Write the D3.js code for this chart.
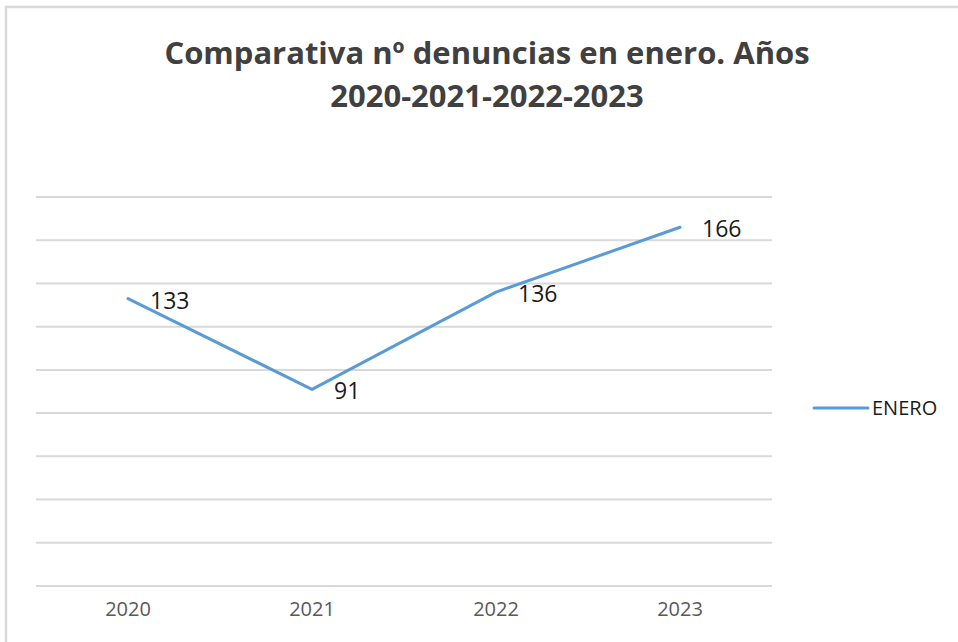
<!DOCTYPE html>
<html>
<head>
<meta charset="utf-8">
<script src="https://cdn.jsdelivr.net/npm/d3@7"></script>
<style>
  body { margin: 0; background: #fff; }
  svg { display: block; }
</style>
</head>
<body>
<svg id="chart" width="958" height="642"></svg>
<script>
// chart data
const years = ['2020', '2021', '2022', '2023'];
const enero = [133, 91, 136, 166];
const yTicks = [0, 20, 40, 60, 80, 100, 120, 140, 160, 180];
const seriesName = 'ENERO';
const titleLines = ['Comparativa nº denuncias en enero. Años', '2020-2021-2022-2023'];

const svg = d3.select('#chart');
const font = "'Open Sans', 'Liberation Sans', sans-serif";

// outer frame (only top and left edges are visible in the picture)
svg.append('rect')
    .attr('x', 6).attr('y', 7)
    .attr('width', 1000).attr('height', 700)
    .attr('fill', '#fff')
    .attr('stroke', '#d9d9d9')
    .attr('stroke-width', 2.5);

const plot = { left: 36, right: 772, top: 197, bottom: 586 };

const x = d3.scaleBand()
    .domain(years)
    .range([plot.left, plot.right]);

const y = d3.scaleLinear()
    .domain([0, 180])
    .range([plot.bottom, plot.top]);

// gridlines
svg.append('g')
    .selectAll('line')
    .data(yTicks)
    .join('line')
    .attr('x1', plot.left)
    .attr('x2', plot.right)
    .attr('y1', d => y(d))
    .attr('y2', d => y(d))
    .attr('stroke', '#d9d9d9')
    .attr('stroke-width', 2);

// x axis labels
const xAxis = svg.append('g')
    .attr('transform', `translate(0,${plot.bottom})`)
    .call(d3.axisBottom(x).tickSize(0).tickPadding(16));
xAxis.select('.domain').remove();
xAxis.selectAll('text')
    .attr('font-family', font)
    .attr('font-size', 20)
    .attr('fill', '#595959');

// title
svg.append('g')
    .selectAll('text')
    .data(titleLines)
    .join('text')
    .attr('x', 487)
    .attr('y', (d, i) => 64 + i * 43)
    .attr('text-anchor', 'middle')
    .attr('font-family', font)
    .attr('font-weight', 'bold')
    .attr('font-size', 31)
    .attr('fill', '#404040')
    .text(d => d);

const cx = (d, i) => x(years[i]) + x.bandwidth() / 2;

// the line
const line = d3.line()
    .x((d, i) => cx(d, i))
    .y(d => y(d));

svg.append('path')
    .datum(enero)
    .attr('d', line)
    .attr('fill', 'none')
    .attr('stroke', '#5b9bd5')
    .attr('stroke-width', 3)
    .attr('stroke-linejoin', 'round')
    .attr('stroke-linecap', 'round');

// data labels, right of the point
svg.append('g')
    .selectAll('text')
    .data(enero)
    .join('text')
    .attr('x', (d, i) => cx(d, i) + 22)
    .attr('y', d => y(d) + 2)
    .attr('dy', '0.35em')
    .attr('font-family', font)
    .attr('font-size', 23)
    .attr('fill', '#1a1a1a')
    .text(d => d);

// legend
const legend = svg.append('g').attr('transform', 'translate(814,408)');
legend.append('line')
    .attr('x1', 0).attr('x2', 54)
    .attr('stroke', '#5b9bd5')
    .attr('stroke-width', 3)
    .attr('stroke-linecap', 'round');
legend.append('text')
    .attr('x', 58)
    .attr('dy', '0.35em')
    .attr('font-family', font)
    .attr('font-size', 20)
    .attr('fill', '#1a1a1a')
    .text(seriesName);
</script>
</body>
</html>
